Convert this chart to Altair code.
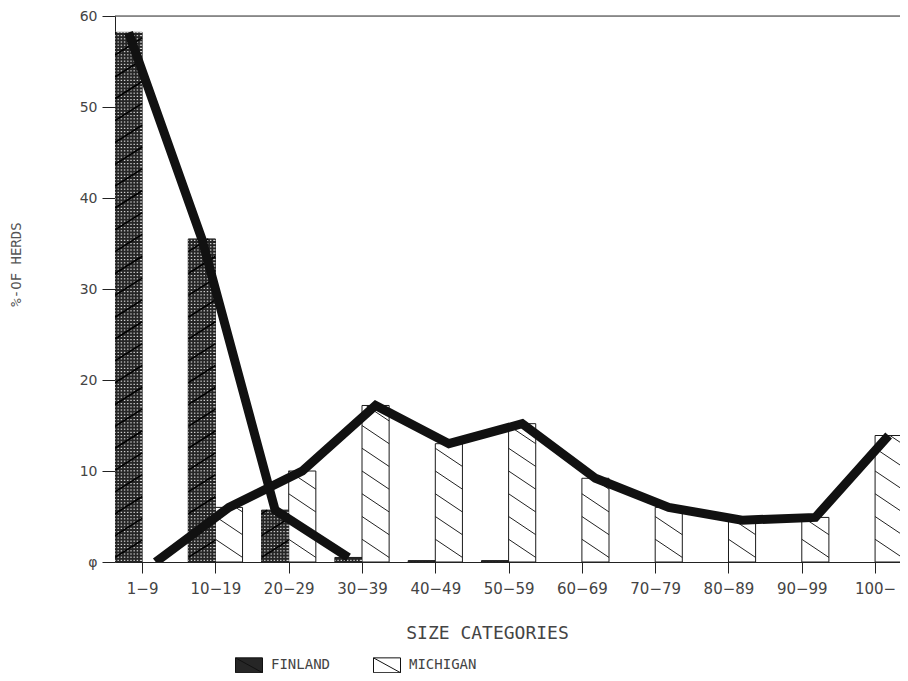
import json
import altair as alt
import pandas as pd

# ---------------- data ----------------
categories = ["1−9", "10−19", "20−29", "30−39", "40−49", "50−59",
              "60−69", "70−79", "80−89", "90−99", "100−"]
finland = [58.2, 35.5, 5.7, 0.5, 0.15, 0.15, 0, 0, 0, 0, 0]
michigan = [0, 6.0, 10.0, 17.2, 13.0, 15.2, 9.2, 6.0, 4.6, 4.9, 13.9]
series = ["FINLAND", "MICHIGAN"]
y_ticks = [0, 10, 20, 30, 40, 50, 60]
finland_line_classes = 4  # the Finland curve is drawn over the first four classes

rows = []
for i, c in enumerate(categories):
    rows.append({"cat": c, "idx": i, "series": series[0], "s": 0, "value": finland[i]})
    rows.append({"cat": c, "idx": i, "series": series[1], "s": 1, "value": michigan[i]})
df = pd.DataFrame(rows)
top_df = pd.DataFrame({"v": [y_ticks[-1]]})

# ---------------- layout / style constants ----------------
W, H = 785, 546
BW = 0.37                  # bar width in category steps
X_MAX = 10.71              # visible part of the category axis
PX_X = W / X_MAX           # pixels per x unit
PX_Y = H / 60.0            # pixels per y unit
GX = 3.2 / PX_X            # crosshatch period (x units)
GY = 3.2 / PX_Y            # crosshatch period (y units)
MS, MD = 2.5, 2.0          # Michigan hatch spacing / drop (y units)
FS, FD = 2.4, 1.9          # Finland diagonal spacing / rise (y units)

xscale = alt.Scale(domain=[0, X_MAX], nice=False, zero=False)
yscale = alt.Scale(domain=[0, 60], nice=False)

cats_js = json.dumps(categories, ensure_ascii=False)

xaxis = alt.Axis(
    values=[i + BW for i in range(len(categories))],
    labelExpr=f"{cats_js}[round(datum.value - {BW})]",
    title="SIZE CATEGORIES", titleFont="DejaVu Sans Mono", titleFontSize=18,
    titleFontWeight="normal", titleColor="#444", titleX=372, titleY=76,
    titleAlign="center", titleBaseline="alphabetic",
    labelFont="DejaVu Sans", labelFontSize=15, labelColor="#444",
    labelPadding=8, labelFlush=False, labelOverlap=False, labelBound=False,
    tickSize=11, tickColor="#222", domainColor="#222", grid=False,
)
yaxis = alt.Axis(
    values=y_ticks,
    labelExpr="datum.value == 0 ? 'φ' : datum.label",
    title="%-OF HERDS", titleFont="DejaVu Sans Mono", titleFontSize=14,
    titleFontWeight="normal", titleColor="#555", titleX=-99, titleY=248,
    titleAngle=270, titleAlign="center", titleBaseline="middle",
    labelFont="DejaVu Sans", labelFontSize=14, labelColor="#444",
    labelPadding=5, labelFlush=False, labelOverlap=False,
    tickSize=13, tickColor="#222", domainColor="#222", grid=False,
)
legend = alt.Legend(
    title=None, orient="none", legendX=120, legendY=635, direction="horizontal",
    symbolType="M-1,-0.55H1V0.55H-1Z M-1,-0.55L1,0.55", symbolSize=729,
    symbolStrokeColor="#111", symbolStrokeWidth=1,
    labelFont="DejaVu Sans Mono", labelFontSize=14, labelColor="#444",
    labelOffset=8, columnPadding=40, padding=0,
)


def X(field):
    return alt.X(field, scale=xscale, axis=xaxis)


def Y(field):
    return alt.Y(field, scale=yscale, axis=yaxis)


base = alt.Chart(df).transform_calculate(
    xl=f"datum.idx + datum.s * {BW}",
    xr=f"datum.idx + (datum.s + 1) * {BW}",
    xc=f"datum.idx + (datum.s + 0.5) * {BW}",
)

bars = base.transform_filter("datum.value > 0").mark_rect(
    stroke="#1a1a1a", strokeWidth=1, clip=True
).encode(
    x=X("xl:Q"), x2="xr:Q",
    y=Y("value:Q"), y2=alt.datum(0),
    fill=alt.Fill("series:N", scale=alt.Scale(domain=series, range=["#262626", "#ffffff"]),
                  legend=legend),
)

# Finland crosshatch: light horizontal strokes cut by dark vertical strokes
fin = base.transform_filter("datum.s == 0 && datum.value > 0")
fin_h = fin.transform_calculate(
    gy=f"sequence({GY / 2}, datum.value, {GY})"
).transform_flatten(["gy"]).mark_rule(
    color="#cfcfcf", strokeWidth=1.2, clip=True
).encode(x=X("xl:Q"), x2="xr:Q", y=Y("gy:Q"))

fin_v = fin.transform_calculate(
    gx=f"sequence(datum.xl + {GX / 2}, datum.xr, {GX})"
).transform_flatten(["gx"]).mark_rule(
    color="#262626", strokeWidth=1.8, clip=True
).encode(x=X("gx:Q"), y=Y("value:Q"), y2=alt.datum(0))

fin_d = fin.transform_calculate(
    k=f"sequence({-FD}, datum.value, {FS})"
).transform_flatten(["k"]).transform_calculate(
    t0=f"max(0, -datum.k / {FD})",
    t1=f"min(1, (datum.value - datum.k) / {FD})",
).transform_filter("datum.t0 < datum.t1").transform_calculate(
    hx1=f"datum.xl + datum.t0 * {BW}", hy1=f"datum.k + {FD} * datum.t0",
    hx2=f"datum.xl + datum.t1 * {BW}", hy2=f"datum.k + {FD} * datum.t1",
).mark_rule(color="#000", strokeWidth=1.6, clip=True).encode(
    x=X("hx1:Q"), x2="hx2:Q", y=Y("hy1:Q"), y2="hy2:Q",
)

# Michigan single hatch "\"
mic_d = base.transform_filter("datum.s == 1 && datum.value > 0").transform_calculate(
    k=f"sequence({-MD}, datum.value, {MS})"
).transform_flatten(["k"]).transform_calculate(
    t0=f"max(0, 1 - (datum.value - datum.k) / {MD})",
    t1=f"min(1, 1 + datum.k / {MD})",
).transform_filter("datum.t0 < datum.t1").transform_calculate(
    hx1=f"datum.xl + datum.t0 * {BW}", hy1=f"datum.k + {MD} * (1 - datum.t0)",
    hx2=f"datum.xl + datum.t1 * {BW}", hy2=f"datum.k + {MD} * (1 - datum.t1)",
).mark_rule(color="#222", strokeWidth=1, clip=True).encode(
    x=X("hx1:Q"), x2="hx2:Q", y=Y("hy1:Q"), y2="hy2:Q",
)

lines = base.transform_filter(
    f"datum.s == 1 || datum.idx < {finland_line_classes}"
).mark_line(color="#111", strokeWidth=9, strokeJoin="miter", strokeCap="butt", clip=True).encode(
    x=X("xc:Q"), y=Y("value:Q"),
    detail="series:N",
    order="idx:Q",
)

top_rule = alt.Chart(top_df).mark_rule(color="#333", strokeWidth=1).encode(y=Y("v:Q"))

chart = alt.layer(bars, fin_h, fin_v, fin_d, mic_d, lines, top_rule).properties(
    width=W, height=H,
    padding={"left": 107, "top": 8, "right": 0, "bottom": 111},
    autosize=alt.AutoSizeParams(type="none"),
).configure_view(stroke=None).configure(background="white")

chart.save("out.html", embed_options={"renderer": "svg", "actions": False})
